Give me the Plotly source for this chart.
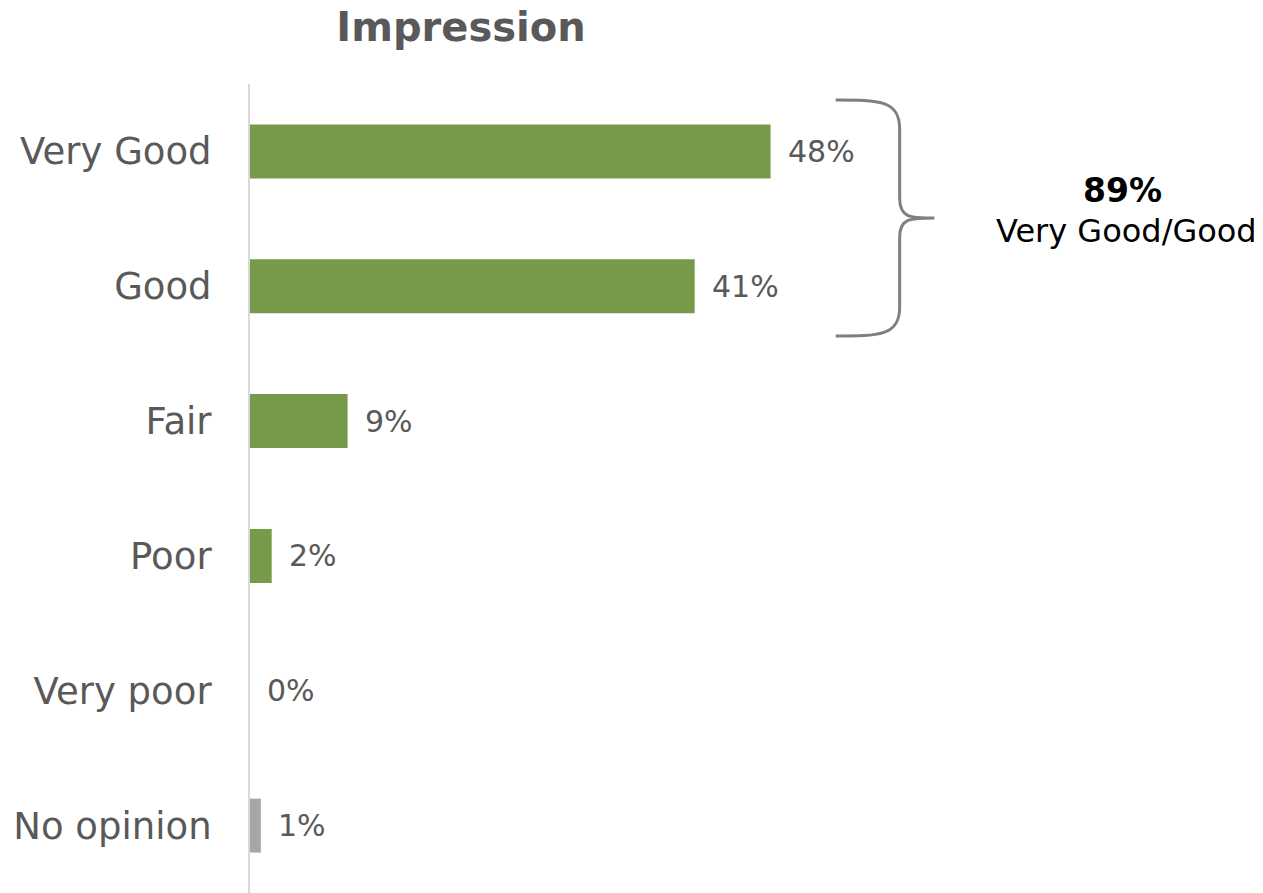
import plotly.graph_objects as go

# Survey results: overall impression
categories = ["Very Good", "Good", "Fair", "Poor", "Very poor", "No opinion"]
values = [48, 41, 9, 2, 0, 1]
bar_colors = ["#77994A", "#77994A", "#77994A", "#77994A", "#77994A", "#A6A6A6"]
combined_label = "Very Good/Good"
combined_value = values[0] + values[1]

W, H = 1263, 893
M_L, M_R, M_T, M_B = 250, 0, 84, 0
X_MAX = 93.4

LABEL_FONT = "DejaVu Sans"
TEXT_GRAY = "#595959"

fig = go.Figure()
fig.add_trace(go.Bar(
    y=categories,
    x=values,
    orientation="h",
    marker=dict(color=bar_colors, line=dict(width=0)),
    width=0.4,
    hoverinfo="skip",
))

# value labels to the right of each bar
for cat, v in zip(categories, values):
    fig.add_annotation(
        x=v, y=cat, xref="x", yref="y",
        text=f"{v}%", showarrow=False,
        xanchor="left", yanchor="middle", xshift=15,
        font=dict(family=LABEL_FONT, size=30, color=TEXT_GRAY),
    )

# curly brace grouping the two top categories (x in data units, y in paper units)
plot_w = W - M_L - M_R
plot_h = H - M_T - M_B


def py(pix):
    return (H - M_B - pix) / plot_h


def px(pix):
    return (pix - M_L) / plot_w


x0, x1, x2 = 54.0, 59.9, 63.1
yt, ym, yb = py(100), py(218), py(336)
k = 0.012
brace = (
    f"M {x0},{yt} C {x0 + 4},{yt} {x1},{yt} {x1},{yt - 3 * k} "
    f"L {x1},{ym + 2 * k} C {x1},{ym} {x1 + 1},{ym} {x2},{ym} "
    f"C {x1 + 1},{ym} {x1},{ym} {x1},{ym - 2 * k} "
    f"L {x1},{yb + 3 * k} C {x1},{yb} {x0 + 4},{yb} {x0},{yb}"
)
fig.add_shape(type="path", path=brace, xref="x", yref="paper",
              line=dict(color="#7F7F7F", width=3))

fig.add_annotation(
    x=px(1122), y=py(190), xref="x domain", yref="paper",
    xanchor="center", yanchor="middle",
    text=f"<b>{combined_value}%</b>", showarrow=False,
    font=dict(family=LABEL_FONT, size=33, color="#000000"),
)
fig.add_annotation(
    x=px(1126), y=py(231), xref="x domain", yref="paper",
    xanchor="center", yanchor="middle",
    text=combined_label, showarrow=False,
    font=dict(family=LABEL_FONT, size=32, color="#000000"),
)

fig.update_layout(
    width=W, height=H,
    margin=dict(l=M_L, r=M_R, t=M_T, b=M_B, pad=0),
    paper_bgcolor="white", plot_bgcolor="white",
    showlegend=False,
    title=dict(
        text="<b>Impression</b>", x=461 / W, xanchor="center",
        y=1 - 27 / H, yanchor="middle",
        font=dict(family=LABEL_FONT, size=40, color=TEXT_GRAY),
    ),
    xaxis=dict(range=[0, X_MAX], visible=False, fixedrange=True),
    yaxis=dict(
        categoryorder="array", categoryarray=categories, autorange="reversed",
        showline=True, linecolor="#D9D9D9", linewidth=2,
        showgrid=False, zeroline=False, ticks="",
        ticklabelstandoff=29,
        tickfont=dict(family=LABEL_FONT, size=37, color=TEXT_GRAY),
    ),
)

fig.write_html("out.html")
